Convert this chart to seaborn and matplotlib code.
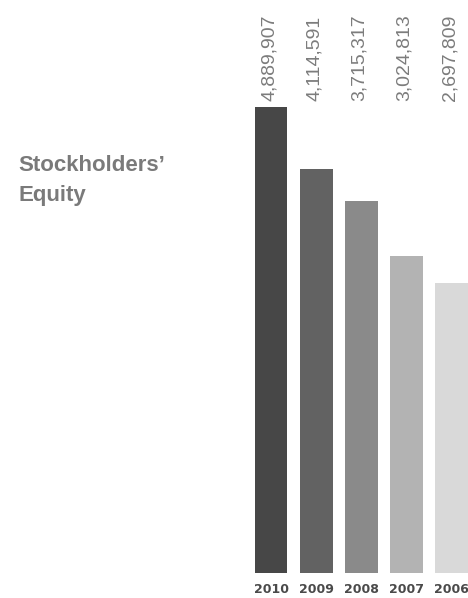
import numpy as np
import pandas as pd
import matplotlib
matplotlib.use("Agg")
import matplotlib.pyplot as plt
import matplotlib.transforms as mtransforms
import seaborn as sns

# Stockholders' equity by year (in dollars)
years = ["2010", "2009", "2008", "2007", "2006"]
equity = [4889907, 4114591, 3715317, 3024813, 2697809]
value_labels = ["4,889,907", "4,114,591", "3,715,317", "3,024,813", "2,697,809"]
bar_colors = ["#474747", "#626262", "#8a8a8a", "#b3b3b3", "#d9d9d9"]

df = pd.DataFrame({"year": years, "equity": equity})

sns.set_theme(style="white")

W, H, DPI = 468, 598, 100
fig = plt.figure(figsize=(W / DPI, H / DPI), dpi=DPI)

# axes spans the right part of the figure, bars sit on the bottom edge
ax_left = 248.5 / W
ax_bottom = (H - 573) / H
ax = fig.add_axes([ax_left, ax_bottom, 1 - ax_left, 573 / H])

sns.barplot(data=df, x="year", y="equity", hue="year", palette=bar_colors,
            legend=False, width=0.73, saturation=1, linewidth=0, ax=ax)

# baseline offset: every bar carries a fixed stub below its value
stub = 921870.0


def fwd(v):
    v = np.asarray(v, dtype=float)
    return np.where(v > 0, v + stub, v)


def inv(y):
    y = np.asarray(y, dtype=float)
    return np.where(y > stub, y - stub, y)


ax.set_yscale("function", functions=(fwd, inv))
ax.set_ylim(0, 6218000)
ax.set_xlim(-0.4989, 4.368)

for s in ax.spines.values():
    s.set_visible(False)
ax.set_yticks([])
ax.set_xlabel("")
ax.set_ylabel("")
ax.tick_params(axis="x", length=0, pad=7)
for lab in ax.get_xticklabels():
    lab.set_fontfamily("DejaVu Sans")
    lab.set_fontweight("bold")
    lab.set_fontsize(9)
    lab.set_color("#4a4a4a")

# value labels, rotated and aligned on a common baseline above the bars
trans = mtransforms.blended_transform_factory(ax.transData, fig.transFigure)
for i, txt in enumerate(value_labels):
    ax.text(i - 0.04, (H - 101) / H, txt, transform=trans, rotation=90,
            ha="center", va="bottom", fontsize=14, color="#7c7c7c",
            family=["Liberation Sans", "DejaVu Sans"], clip_on=False)

# section title
fig.text(18 / W, (H - 171) / H, "Stockholders\u2019", ha="left", va="baseline",
         fontsize=16, fontweight="bold", color="#7a7a7a",
         family=["Liberation Sans", "DejaVu Sans"])
fig.text(18 / W, (H - 201) / H, "Equity", ha="left", va="baseline",
         fontsize=16, fontweight="bold", color="#7a7a7a",
         family=["Liberation Sans", "DejaVu Sans"])

fig.savefig("out.png", dpi=DPI, facecolor="white")
